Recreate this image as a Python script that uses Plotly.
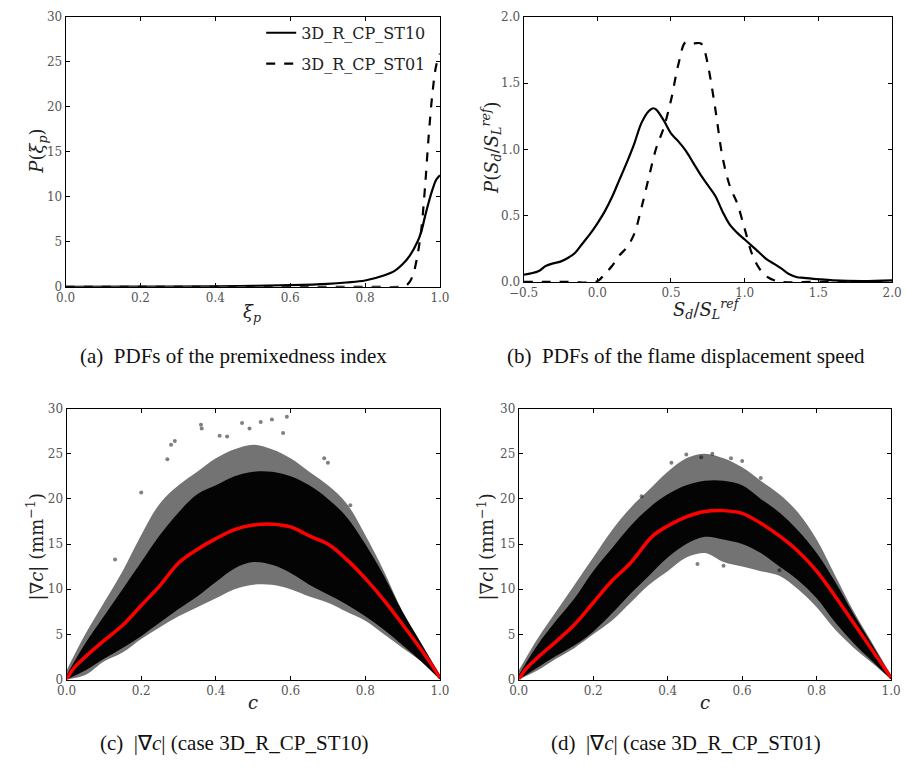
import plotly.graph_objects as go

# ---------- (a) PDFs of premixedness index ----------
xi_p = [0.0, 0.2, 0.4, 0.5, 0.6, 0.7, 0.75, 0.8, 0.85, 0.88, 0.9, 0.92, 0.94, 0.95, 0.96, 0.97, 0.98, 0.99, 1.0]
pdf_xi_st10 = [0.0, 0.02, 0.05, 0.1, 0.18, 0.33, 0.48, 0.7, 1.25, 1.8, 2.5, 3.5, 5.0, 6.1, 7.8, 9.4, 10.8, 11.9, 12.4]
xi_p_st01 = [0.0, 0.5, 0.8, 0.9, 0.91, 0.92, 0.93, 0.94, 0.95, 0.96, 0.97, 0.98, 0.99, 1.0]
pdf_xi_st01 = [0.0, 0.0, 0.0, 0.02, 0.15, 0.6, 1.6, 3.5, 6.3, 11.0, 16.8, 21.5, 24.6, 25.9]

# ---------- (b) PDFs of displacement speed ----------
sd_st10 = [-0.5, -0.4, -0.35, -0.3, -0.25, -0.2, -0.15, -0.1, -0.05, 0.0, 0.05, 0.1, 0.15, 0.2, 0.25, 0.3,
           0.35, 0.38, 0.4, 0.45, 0.5, 0.55, 0.6, 0.65, 0.7, 0.75, 0.8, 0.85, 0.9, 0.95, 1.0, 1.05, 1.1,
           1.15, 1.2, 1.25, 1.3, 1.35, 1.4, 1.5, 1.6, 1.8, 2.0]
pdf_sd_st10 = [0.054, 0.08, 0.12, 0.14, 0.153, 0.18, 0.22, 0.29, 0.36, 0.44, 0.53, 0.64, 0.77, 0.9, 1.04, 1.2,
               1.29, 1.31, 1.30, 1.22, 1.12, 1.06, 0.99, 0.9, 0.81, 0.73, 0.65, 0.53, 0.43, 0.37, 0.32, 0.27, 0.22,
               0.17, 0.136, 0.1, 0.06, 0.037, 0.03, 0.02, 0.012, 0.007, 0.012]
sd_st01 = [-0.5, -0.2, 0.0, 0.05, 0.1, 0.15, 0.2, 0.25, 0.3, 0.35, 0.4, 0.45, 0.5, 0.55, 0.6, 0.65, 0.7,
           0.72, 0.75, 0.8, 0.85, 0.9, 0.95, 1.0, 1.05, 1.1, 1.15, 1.2, 1.25, 1.5, 2.0]
pdf_sd_st01 = [0.0, 0.0, 0.005, 0.06, 0.12, 0.2, 0.26, 0.36, 0.56, 0.79, 1.01, 1.16, 1.37, 1.64, 1.81, 1.80, 1.80,
               1.77, 1.64, 1.31, 0.94, 0.72, 0.59, 0.40, 0.21, 0.10, 0.04, 0.012, 0.0, 0.0, 0.0]

# ---------- (c)/(d) |grad c| vs c ----------
c_grid = [0.0, 0.05, 0.1, 0.15, 0.2, 0.25, 0.3, 0.35, 0.4, 0.45, 0.5, 0.55, 0.6, 0.65, 0.7, 0.75, 0.8, 0.85, 0.9, 0.95, 1.0]

c10_sparse_up = [1.0, 5.0, 8.5, 12.0, 16.0, 19.5, 21.5, 23.0, 24.5, 25.5, 26.0, 25.5, 24.5, 23.0, 21.5, 19.5, 16.0, 12.0, 7.5, 4.0, 0.5]
c10_dense_up = [0.5, 4.0, 7.0, 10.0, 13.0, 16.0, 18.5, 20.5, 21.5, 22.5, 23.0, 23.0, 22.5, 21.5, 20.0, 18.0, 15.0, 11.5, 7.5, 4.0, 0.5]
c10_dense_lo = [0.0, 1.0, 2.3, 3.5, 4.8, 6.3, 7.8, 9.2, 10.8, 12.3, 13.0, 12.7, 11.8, 10.5, 9.4, 8.3, 7.0, 5.5, 3.8, 2.0, 0.0]
c10_sparse_lo = [0.0, 0.5, 2.0, 3.0, 4.5, 5.8, 7.0, 8.0, 9.0, 10.0, 10.5, 10.5, 10.0, 9.2, 8.5, 7.5, 6.5, 5.0, 3.5, 2.0, 0.0]
c10_out_x = [0.36, 0.362, 0.47, 0.52, 0.55, 0.59, 0.49, 0.29, 0.28, 0.20, 0.69, 0.70, 0.76, 0.58, 0.43, 0.41, 0.27, 0.13]
c10_out_y = [28.2, 27.8, 28.4, 28.5, 28.8, 29.1, 27.8, 26.4, 26.0, 20.7, 24.5, 24.0, 19.3, 27.3, 26.9, 27.0, 24.4, 13.3]
mean10_c = [0.0, 0.02, 0.05, 0.1, 0.15, 0.2, 0.25, 0.3, 0.35, 0.4, 0.45, 0.5, 0.55, 0.6, 0.65, 0.7, 0.75, 0.8, 0.85, 0.9, 0.95, 0.98, 1.0]
mean10 = [0.0, 1.3, 2.5, 4.3, 6.0, 8.2, 10.4, 12.9, 14.4, 15.6, 16.6, 17.1, 17.2, 16.9, 15.9, 15.0, 13.3, 11.2, 8.8, 6.1, 3.3, 1.5, 0.2]

c01_sparse_up = [1.0, 4.5, 7.5, 10.5, 13.5, 16.5, 19.0, 21.0, 23.0, 24.5, 25.0, 24.5, 23.5, 22.0, 20.5, 18.5, 15.5, 11.5, 7.5, 4.0, 0.5]
c01_dense_up = [0.5, 3.8, 6.5, 9.0, 12.0, 14.5, 17.0, 19.0, 20.5, 21.5, 22.0, 22.0, 21.5, 20.0, 18.5, 16.5, 14.0, 10.8, 7.2, 3.8, 0.3]
c01_dense_lo = [0.0, 1.3, 2.6, 3.8, 5.3, 7.3, 9.5, 11.5, 13.5, 15.0, 15.8, 15.5, 15.0, 14.0, 12.5, 11.0, 9.0, 6.3, 4.0, 2.0, 0.0]
c01_sparse_lo = [0.0, 1.0, 2.3, 3.5, 5.0, 6.5, 8.5, 10.5, 12.0, 13.5, 14.0, 13.0, 12.5, 12.0, 11.5, 10.0, 8.0, 5.5, 3.5, 1.8, 0.0]
c01_out_x = [0.45, 0.49, 0.52, 0.6, 0.41, 0.33, 0.57, 0.65, 0.7, 0.48, 0.55]
c01_out_y = [24.9, 24.6, 25.0, 24.2, 24.0, 20.3, 24.5, 22.3, 12.1, 12.8, 12.6]
mean01_c = [0.0, 0.02, 0.05, 0.1, 0.15, 0.2, 0.25, 0.3, 0.36, 0.4, 0.45, 0.5, 0.55, 0.6, 0.65, 0.7, 0.75, 0.8, 0.85, 0.9, 0.95, 0.98, 1.0]
mean01 = [0.0, 1.2, 2.4, 4.2, 6.1, 8.5, 10.9, 12.9, 15.9, 17.0, 18.0, 18.6, 18.7, 18.4, 17.3, 15.9, 14.2, 12.0, 9.2, 6.2, 3.2, 1.4, 0.2]

SERIF = "DejaVu Serif"
TICKFONT = dict(family=SERIF, size=12, color="#555555")
TITLEFONT = dict(family=SERIF, size=18, color="#222222")
CAPFONT = dict(family="Liberation Serif", size=21, color="#111111")

fig = go.Figure()

# (a)
fig.add_trace(go.Scatter(x=xi_p, y=pdf_xi_st10, mode="lines", name="3D_R_CP_ST10", legendgroup="g1",
                         line=dict(color="black", width=2.2), xaxis="x", yaxis="y", line_shape="spline"))
fig.add_trace(go.Scatter(x=xi_p_st01, y=pdf_xi_st01, mode="lines", name="3D_R_CP_ST01", legendgroup="g2",
                         line=dict(color="black", width=2.2, dash="dash"), xaxis="x", yaxis="y", line_shape="spline"))
# (b)
fig.add_trace(go.Scatter(x=sd_st10, y=pdf_sd_st10, mode="lines", showlegend=False,
                         line=dict(color="black", width=2.2), xaxis="x2", yaxis="y2", line_shape="spline"))
fig.add_trace(go.Scatter(x=sd_st01, y=pdf_sd_st01, mode="lines", showlegend=False,
                         line=dict(color="black", width=2.2, dash="dash"), xaxis="x2", yaxis="y2", line_shape="spline"))


def add_cloud(xa, ya, sp_up, d_up, d_lo, sp_lo, ox, oy, mc, mv):
    fig.add_trace(go.Scatter(x=c_grid, y=sp_up, mode="lines", line=dict(width=0, shape="spline"),
                             showlegend=False, hoverinfo="skip", xaxis=xa, yaxis=ya))
    fig.add_trace(go.Scatter(x=c_grid, y=sp_lo, mode="lines", line=dict(width=0, shape="spline"),
                             fill="tonexty", fillcolor="rgba(0,0,0,0.55)",
                             showlegend=False, hoverinfo="skip", xaxis=xa, yaxis=ya))
    fig.add_trace(go.Scatter(x=c_grid, y=d_up, mode="lines", line=dict(width=0, shape="spline"),
                             showlegend=False, hoverinfo="skip", xaxis=xa, yaxis=ya))
    fig.add_trace(go.Scatter(x=c_grid, y=d_lo, mode="lines", line=dict(width=0, shape="spline"),
                             fill="tonexty", fillcolor="rgba(0,0,0,0.96)",
                             showlegend=False, hoverinfo="skip", xaxis=xa, yaxis=ya))
    fig.add_trace(go.Scatter(x=ox, y=oy, mode="markers", marker=dict(color="rgba(0,0,0,0.5)", size=4),
                             showlegend=False, xaxis=xa, yaxis=ya))
    fig.add_trace(go.Scatter(x=mc, y=mv, mode="lines", line=dict(color="#ff0000", width=3.5, shape="spline"),
                             showlegend=False, xaxis=xa, yaxis=ya))


add_cloud("x3", "y3", c10_sparse_up, c10_dense_up, c10_dense_lo, c10_sparse_lo, c10_out_x, c10_out_y, mean10_c, mean10)
add_cloud("x4", "y4", c01_sparse_up, c01_dense_up, c01_dense_lo, c01_sparse_lo, c01_out_x, c01_out_y, mean01_c, mean01)

W, H = 906, 769


def dx(a, b):
    return [a / W, b / W]


def dy(top, bot):
    return [1 - bot / H, 1 - top / H]


def ax_common(**kw):
    d = dict(showline=True, linecolor="black", linewidth=1, mirror="ticks", ticks="inside", ticklen=4,
             tickcolor="black", tickfont=TICKFONT, showgrid=False, zeroline=False, fixedrange=True)
    d.update(kw)
    return d


ticks01 = dict(tickvals=[0, 0.2, 0.4, 0.6, 0.8, 1.0], ticktext=["0.0", "0.2", "0.4", "0.6", "0.8", "1.0"])
ticks30 = dict(tickvals=[0, 5, 10, 15, 20, 25, 30])

fig.update_layout(
    width=W, height=H, margin=dict(l=0, r=0, t=0, b=0),
    paper_bgcolor="white", plot_bgcolor="white",
    xaxis=ax_common(domain=dx(52, 437), anchor="y", range=[0, 1], **ticks01),
    yaxis=ax_common(domain=dy(10, 285), anchor="x", range=[0, 30], **ticks30),
    xaxis2=ax_common(domain=dx(523, 902), anchor="y2", range=[-0.5, 2.0], tickvals=[-0.5, 0, 0.5, 1.0, 1.5, 2.0],
                     ticktext=["−0.5", "0.0", "0.5", "1.0", "1.5", "2.0"]),
    yaxis2=ax_common(domain=dy(10, 280), anchor="x2", range=[0, 2.0], tickvals=[0, 0.5, 1.0, 1.5, 2.0],
                     ticktext=["0.0", "0.5", "1.0", "1.5", "2.0"]),
    xaxis3=ax_common(domain=dx(53, 437), anchor="y3", range=[0, 1], **ticks01),
    yaxis3=ax_common(domain=dy(409, 685), anchor="x3", range=[0, 30], **ticks30),
    xaxis4=ax_common(domain=dx(518, 901), anchor="y4", range=[0, 1], **ticks01),
    yaxis4=ax_common(domain=dy(409, 685), anchor="x4", range=[0, 30], **ticks30),
    legend=dict(x=428 / W, xanchor="right", y=1 - 9 / H, yanchor="top", bgcolor="rgba(0,0,0,0)",
                traceorder="grouped", font=dict(family=SERIF, size=16, color="#222222"),
                itemwidth=30, tracegroupgap=7),
    showlegend=True,
)

# axis titles as annotations (pixel-placed)
axis_titles = [
    ("<i>ξ<sub>p</sub></i>", 244, 312, 0),
    ("<i>P</i>(<i>ξ<sub>p</sub></i>)", 24, 147, -90),
    ("<i>S<sub>d</sub></i>/<i>S<sub>L</sub><sup>ref</sup></i>", 712, 308, 0),
    ("<i>P</i>(<i>S<sub>d</sub></i>/<i>S<sub>L</sub><sup>ref</sup></i>)", 490, 143, -90),
    ("<i>c</i>", 245, 708, 0),
    ("|∇<i>c</i>| (mm<sup>−1</sup>)", 22, 550, -90),
    ("<i>c</i>", 710, 708, 0),
    ("|∇<i>c</i>| (mm<sup>−1</sup>)", 485, 550, -90),
]
for txt, px, py, ang in axis_titles:
    fig.add_annotation(text=txt, x=px / W, y=1 - py / H, xref="paper", yref="paper", showarrow=False,
                       font=TITLEFONT, textangle=ang, xanchor="center", yanchor="middle")

captions = [
    ("(a)  PDFs of the premixedness index", 225, 355),
    ("(b)  PDFs of the flame displacement speed", 690, 355),
    ("(c)  |∇<i>c</i>| (case 3D_R_CP_ST10)", 226, 750),
    ("(d)  |∇<i>c</i>| (case 3D_R_CP_ST01)", 690, 750),
]
for txt, cx, cy in captions:
    fig.add_annotation(text=txt, x=cx / W, y=1 - cy / H, xref="paper", yref="paper",
                       showarrow=False, font=CAPFONT, xanchor="center", yanchor="middle")

fig.write_html("out.html")
